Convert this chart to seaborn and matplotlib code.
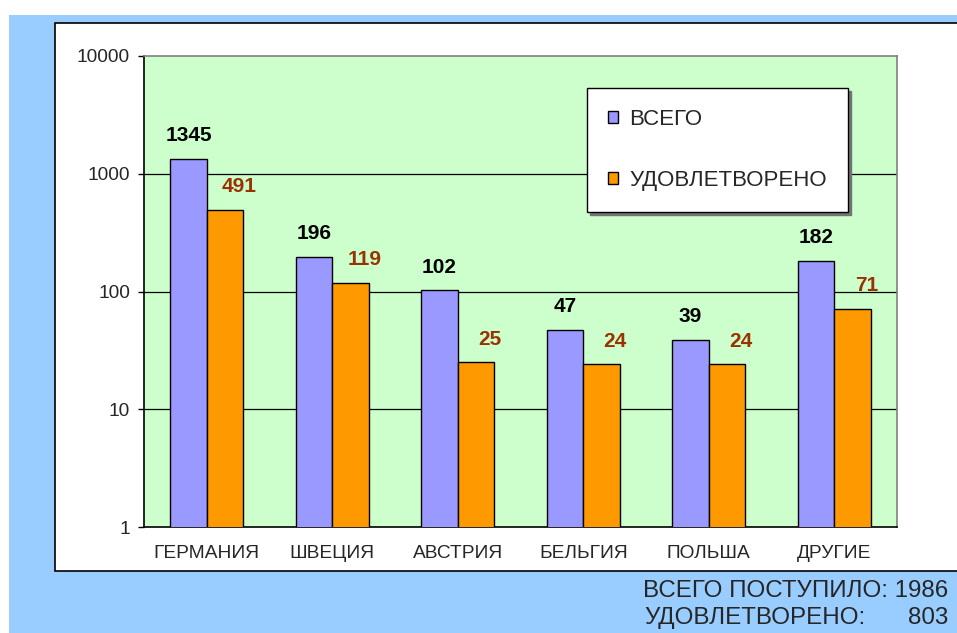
import matplotlib
matplotlib.use("Agg")
import matplotlib.pyplot as plt
from matplotlib.patches import Rectangle
from matplotlib.ticker import FixedLocator, NullLocator, FixedFormatter
import seaborn as sns
import pandas as pd
import numpy as np

# Датасет
strany = ["ГЕРМАНИЯ", "ШВЕЦИЯ", "АВСТРИЯ", "БЕЛЬГИЯ", "ПОЛЬША", "ДРУГИЕ"]
vsego = [1345, 196, 102, 47, 39, 182]
udovl = [491, 119, 25, 24, 24, 71]
serii = ["ВСЕГО", "УДОВЛЕТВОРЕНО"]
y_ticks = [1, 10, 100, 1000, 10000]
itogo_vsego = 1986
itogo_udovl = 803

df = pd.DataFrame({
    "strana": strany * 2,
    "seriya": [serii[0]] * len(strany) + [serii[1]] * len(strany),
    "znach": vsego + udovl,
})

sns.set_style("white")
plt.rcParams["font.family"] = ["Liberation Sans", "DejaVu Sans"]

W, H = 957, 633
fig = plt.figure(figsize=(W / 100, H / 100), dpi=100)
fig.patch.set_facecolor("white")

# Фон: голубая рамка и белая панель
fig.patches.append(Rectangle((9 / W, 0), 1, (H - 15) / H, transform=fig.transFigure,
                             facecolor="#99ccff", edgecolor="none", zorder=-3))
fig.patches.append(Rectangle((55 / W, (H - 571) / H), 1, (571 - 23) / H,
                             transform=fig.transFigure, facecolor="white",
                             edgecolor="black", linewidth=1.2, zorder=-2))

ax = fig.add_axes([144 / W, 1 - 527 / H, (897 - 144) / W, (527 - 56) / H])
ax.set_facecolor("#ccffcc")

sns.barplot(data=df, x="strana", y="znach", hue="seriya", order=strany,
            hue_order=serii, palette=["#9999ff", "#ff9900"], width=0.58,
            edgecolor="black", linewidth=1, saturation=1, ax=ax, zorder=3)

ax.set_yscale("log")
ax.set_ylim(1, 10000)
ax.set_xlim(-0.5, len(strany) - 0.5)
ax.yaxis.set_major_locator(FixedLocator(y_ticks))
ax.yaxis.set_major_formatter(FixedFormatter([str(t) for t in y_ticks]))
ax.yaxis.set_minor_locator(NullLocator())
ax.set_xticks(np.arange(len(strany)))
ax.set_xticklabels(strany)
ax.set_xticks(np.arange(-0.5, len(strany), 1), minor=True)
ax.tick_params(axis="x", which="major", length=0, pad=13, labelsize=13.8)
ax.tick_params(axis="x", which="minor", length=4, width=1, color="black", direction="out")
ax.tick_params(axis="y", which="major", length=4, width=1, color="black",
               direction="out", pad=6, labelsize=13.8, left=True)
ax.set_xlabel("")
ax.set_ylabel("")

for t in [10, 100, 1000]:
    ax.axhline(t, color="black", linewidth=0.9, zorder=1)

for side in ["top", "right"]:
    ax.spines[side].set_color("#808080")
    ax.spines[side].set_linewidth(1.2)
for side in ["left", "bottom"]:
    ax.spines[side].set_color("black")
    ax.spines[side].set_linewidth(1.2)

# Подписи значений
for i, cont in enumerate(ax.containers):
    for bar in cont:
        h = bar.get_height()
        x = bar.get_x() + bar.get_width() / 2
        if i == 0:
            ax.annotate(f"{int(h)}", (x, h), xytext=(0, 10), textcoords="offset points",
                        ha="center", va="bottom", fontsize=15, fontweight="bold",
                        color="black", zorder=5)
        else:
            ax.annotate(f"{int(h)}", (x, h), xytext=(10, 10), textcoords="offset points",
                        ha="center", va="bottom", fontsize=15, fontweight="bold",
                        color="#993300", zorder=5)

# Легенда
handles, labels = ax.get_legend_handles_labels()
ax.legend(handles, labels, loc="upper left", bbox_to_anchor=(587 / W, 1 - 88 / H),
          bbox_transform=fig.transFigure, fontsize=16, frameon=True, fancybox=False,
          edgecolor="black", facecolor="white", framealpha=1, borderpad=0.95,
          labelspacing=1.78, handlelength=0.45, handleheight=0.45, handletextpad=0.5,
          borderaxespad=0, shadow={"color": "0.45", "alpha": 1})
ax.get_legend().get_frame().set_linewidth(1)
ax.get_legend().set_zorder(6)

# Итоги
fig.text(948 / W, 1 - 597 / H, f"ВСЕГО ПОСТУПИЛО: {itogo_vsego}", ha="right",
         va="baseline", fontsize=17.4)
fig.text(644 / W, 1 - 624 / H, "УДОВЛЕТВОРЕНО:", ha="left", va="baseline", fontsize=17.4)
fig.text(948 / W, 1 - 624 / H, f"{itogo_udovl}", ha="right", va="baseline", fontsize=17.4)

fig.savefig("out.png", dpi=100)
